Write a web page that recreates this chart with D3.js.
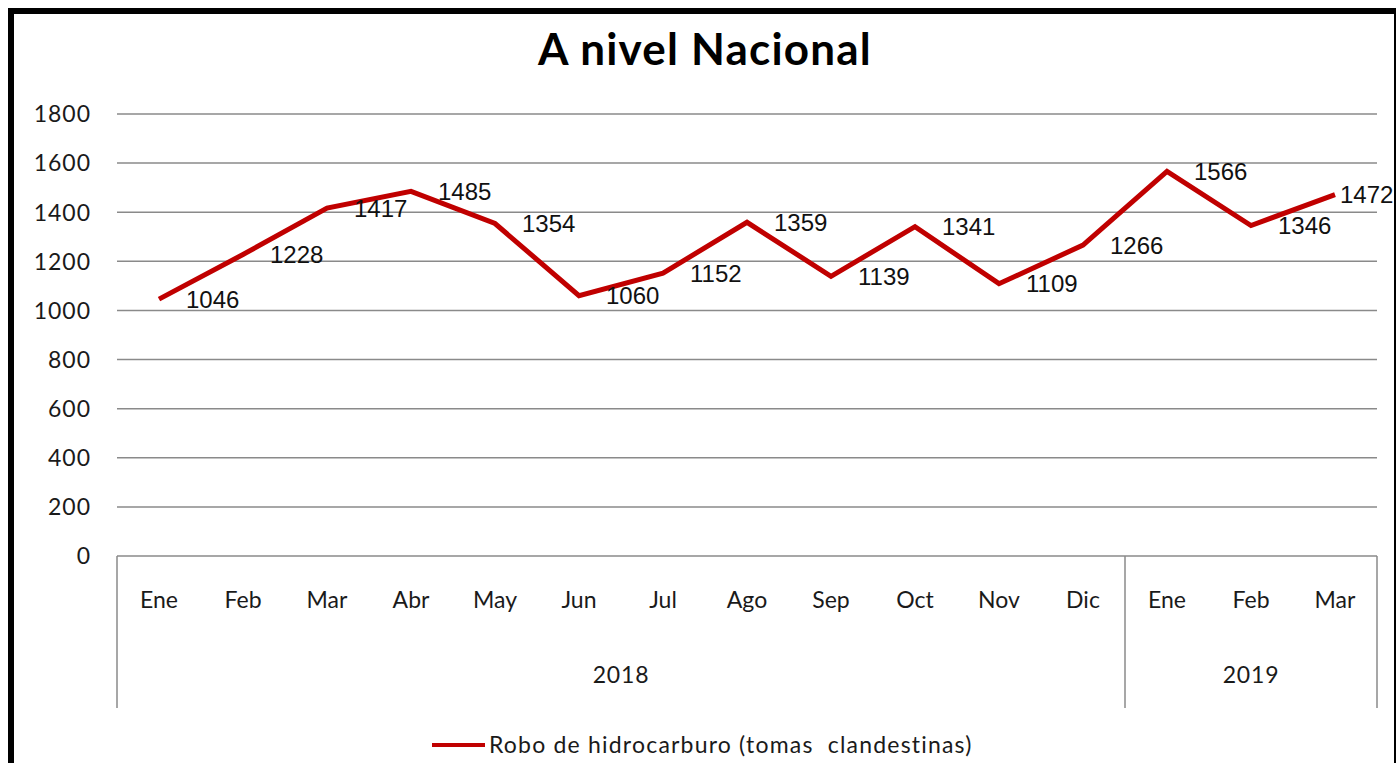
<!DOCTYPE html>
<html lang="es">

<head>
    <meta charset="utf-8">
    <title>A nivel Nacional</title>
    <script src="https://cdn.jsdelivr.net/npm/d3@7"></script>
</head>
<style>
    body {
        margin: 0;
        background: #fff;
    }

    text {
        font-family: Lato, "Open Sans", sans-serif;
        fill: #1a1a1a;
    }

    .label text {
        font-family: "Liberation Sans", Arial, sans-serif;
    }
</style>

<body>
    <script>
        // datos
        var meses = ["Ene", "Feb", "Mar", "Abr", "May", "Jun", "Jul", "Ago", "Sep", "Oct", "Nov", "Dic", "Ene", "Feb", "Mar"];
        var anios = ["2018", "2018", "2018", "2018", "2018", "2018", "2018", "2018", "2018", "2018", "2018", "2018", "2019", "2019", "2019"];
        var tomas = [1046, 1228, 1417, 1485, 1354, 1060, 1152, 1359, 1139, 1341, 1109, 1266, 1566, 1346, 1472];
        var yTicks = [0, 200, 400, 600, 800, 1000, 1200, 1400, 1600, 1800];
        var serie = "Robo de hidrocarburo (tomas  clandestinas)";
        var titulo = "A nivel Nacional";

        var width = 1396;
        var height = 763;
        var plot = { left: 117, right: 1377, top: 114, bottom: 556 };
        var rojo = "#c00000";
        var gris = "#8a8a8a";

        var svg = d3.select("body")
            .append("svg")
            .attr("width", width)
            .attr("height", height);

        // marco negro
        svg.append("rect")
            .attr("x", 11).attr("y", 11)
            .attr("width", 1386).attr("height", 800)
            .attr("fill", "#fff")
            .attr("stroke", "#000")
            .attr("stroke-width", 6);

        // titulo
        svg.append("text")
            .attr("x", 705).attr("y", 65)
            .attr("text-anchor", "middle")
            .style("font-size", "44px")
            .style("font-weight", "bold")
            .style("letter-spacing", "1.2px")
            .style("fill", "#000")
            .text(titulo);

        // escalas
        var x = d3.scaleBand()
            .domain(d3.range(meses.length))
            .range([plot.left, plot.right]);
        var y = d3.scaleLinear()
            .domain([0, 1800])
            .range([plot.bottom, plot.top]);

        // lineas de cuadricula y etiquetas del eje y
        svg.append("g").selectAll("line")
            .data(yTicks)
            .enter().append("line")
            .attr("x1", plot.left).attr("x2", plot.right)
            .attr("y1", function (d) { return y(d); })
            .attr("y2", function (d) { return y(d); })
            .attr("stroke", gris)
            .attr("stroke-width", 1.5);

        svg.append("g").selectAll("text")
            .data(yTicks)
            .enter().append("text")
            .attr("x", 91)
            .attr("y", function (d) { return y(d); })
            .attr("dy", "0.36em")
            .attr("text-anchor", "end")
            .style("font-size", "23px")
            .style("letter-spacing", "1px")
            .text(function (d) { return d; });

        // eje de categorias (meses y anios)
        var grupos = [];
        anios.forEach(function (a, i) {
            if (!grupos.length || grupos[grupos.length - 1].anio != a) {
                grupos.push({ anio: a, ini: i, fin: i });
            } else {
                grupos[grupos.length - 1].fin = i;
            }
        });
        var cortes = [plot.left].concat(grupos.map(function (g) { return x(g.fin) + x.bandwidth(); }));

        svg.append("g").selectAll("line")
            .data(cortes)
            .enter().append("line")
            .attr("x1", function (d) { return d; })
            .attr("x2", function (d) { return d; })
            .attr("y1", plot.bottom)
            .attr("y2", 708)
            .attr("stroke", gris)
            .attr("stroke-width", 1.5);

        svg.append("g").selectAll("text")
            .data(meses)
            .enter().append("text")
            .attr("x", function (d, i) { return x(i) + x.bandwidth() / 2; })
            .attr("y", 608)
            .attr("text-anchor", "middle")
            .style("font-size", "23px")
            .text(function (d) { return d; });

        svg.append("g").selectAll("text")
            .data(grupos)
            .enter().append("text")
            .attr("x", function (g) { return (x(g.ini) + x(g.fin) + x.bandwidth()) / 2; })
            .attr("y", 683)
            .attr("text-anchor", "middle")
            .style("font-size", "23px")
            .style("letter-spacing", "0.8px")
            .text(function (g) { return g.anio; });

        // linea de la serie
        var linea = d3.line()
            .x(function (d, i) { return x(i) + x.bandwidth() / 2; })
            .y(function (d) { return y(d); });

        svg.append("path")
            .datum(tomas)
            .attr("d", linea)
            .attr("fill", "none")
            .attr("stroke", rojo)
            .attr("stroke-width", 5)
            .attr("stroke-linejoin", "miter");

        // etiquetas de datos a la derecha del punto
        svg.append("g").attr("class", "label").selectAll("text")
            .data(tomas)
            .enter().append("text")
            .attr("x", function (d, i) { return Math.min(x(i) + x.bandwidth() / 2 + 27, plot.right - 37); })
            .attr("y", function (d) { return y(d); })
            .attr("dy", "0.36em")
            .style("font-size", "24px")
            .style("fill", "#111")
            .text(function (d) { return d; });

        // leyenda
        svg.append("line")
            .attr("x1", 432).attr("x2", 485)
            .attr("y1", 745).attr("y2", 745)
            .attr("stroke", rojo)
            .attr("stroke-width", 4);
        svg.append("text")
            .attr("x", 489).attr("y", 753)
            .style("font-size", "23px")
            .style("letter-spacing", "1.2px")
            .style("white-space", "pre")
            .text(serie);
    </script>
</body>

</html>
